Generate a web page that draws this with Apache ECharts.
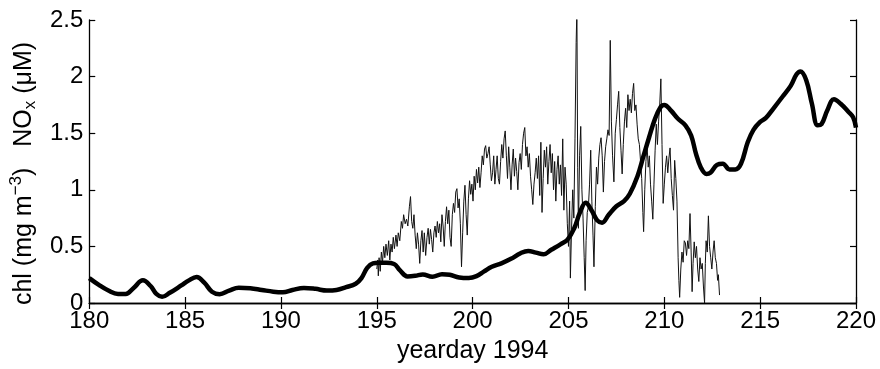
<!DOCTYPE html>
<html>
<head>
<meta charset="utf-8">
<script src="https://cdn.jsdelivr.net/npm/echarts@6/dist/echarts.min.js"></script>
<style>
  html, body { margin: 0; padding: 0; background: #fff; }
  #chart { width: 880px; height: 369px; }
</style>
</head>
<body>
<div id="chart"></div>
<script>
// chl (thick smooth line), [yearday, mg m-3]
const chlData = [
  [180.0, 0.22], [180.5, 0.16], [181.0, 0.11], [181.5, 0.08], [181.9, 0.08],
  [182.3, 0.13], [182.8, 0.20], [183.2, 0.15], [183.5, 0.08], [183.8, 0.055],
  [184.2, 0.09], [184.8, 0.155], [185.2, 0.20], [185.6, 0.23], [186.0, 0.18],
  [186.4, 0.10], [186.8, 0.078], [187.3, 0.11], [187.8, 0.135], [188.4, 0.13],
  [189.0, 0.115], [189.6, 0.10], [190.1, 0.095], [190.6, 0.115], [191.2, 0.133],
  [191.8, 0.125], [192.4, 0.11], [192.9, 0.115], [193.4, 0.14], [193.9, 0.17],
  [194.2, 0.22], [194.5, 0.31], [194.8, 0.35], [195.1, 0.355], [195.5, 0.355],
  [195.9, 0.345], [196.2, 0.29], [196.6, 0.235], [197.0, 0.24], [197.4, 0.252],
  [197.9, 0.232], [198.4, 0.255], [198.8, 0.25], [199.3, 0.225], [199.8, 0.22],
  [200.2, 0.237], [200.6, 0.28], [201.0, 0.32], [201.5, 0.35], [202.0, 0.39],
  [202.5, 0.44], [202.9, 0.46], [203.3, 0.445], [203.7, 0.43], [204.1, 0.47],
  [204.6, 0.52], [204.95, 0.56], [205.3, 0.66], [205.6, 0.80], [205.9, 0.885],
  [206.2, 0.82], [206.5, 0.73], [206.75, 0.71], [207.1, 0.78], [207.5, 0.855],
  [207.9, 0.90], [208.2, 0.965], [208.6, 1.12], [208.9, 1.29], [209.2, 1.46],
  [209.5, 1.62], [209.8, 1.73], [210.0, 1.75], [210.35, 1.70], [210.7, 1.63],
  [211.1, 1.57], [211.4, 1.48], [211.65, 1.32], [211.9, 1.20], [212.2, 1.14],
  [212.4, 1.15], [212.75, 1.22], [213.05, 1.23], [213.4, 1.18], [213.7, 1.18],
  [214.0, 1.23], [214.35, 1.42], [214.65, 1.53], [215.0, 1.60], [215.3, 1.635],
  [215.7, 1.72], [216.2, 1.83], [216.6, 1.92], [216.9, 2.02], [217.1, 2.045],
  [217.4, 1.97], [217.7, 1.76], [218.0, 1.57], [218.2, 1.58], [218.5, 1.70],
  [218.85, 1.80], [219.2, 1.76], [219.6, 1.69], [219.85, 1.64], [220.0, 1.55]
];

// NOx (thin noisy line), [yearday, uM]
const noxData = [
  [195.00, 0.30], [195.05, 0.38], [195.08, 0.24], [195.12, 0.40], [195.18, 0.28],
  [195.24, 0.45], [195.30, 0.36], [195.36, 0.50], [195.42, 0.40], [195.48, 0.52],
  [195.55, 0.42], [195.62, 0.55], [195.68, 0.38], [195.74, 0.52], [195.80, 0.45],
  [195.86, 0.58], [195.92, 0.48], [196.00, 0.60], [196.06, 0.50], [196.12, 0.62],
  [196.20, 0.55], [196.28, 0.72], [196.34, 0.66], [196.40, 0.78], [196.48, 0.70],
  [196.55, 0.74], [196.62, 0.68], [196.70, 0.85], [196.76, 0.94], [196.82, 0.72],
  [196.88, 0.66], [196.94, 0.78], [197.00, 0.60], [197.06, 0.48], [197.12, 0.62],
  [197.18, 0.52], [197.24, 0.35], [197.30, 0.55], [197.36, 0.64], [197.42, 0.45],
  [197.48, 0.62], [197.55, 0.42], [197.62, 0.58], [197.68, 0.66], [197.74, 0.52],
  [197.80, 0.65], [197.86, 0.56], [197.92, 0.45], [197.98, 0.62], [198.04, 0.68],
  [198.10, 0.58], [198.16, 0.72], [198.22, 0.62], [198.28, 0.70], [198.34, 0.54],
  [198.40, 0.78], [198.46, 0.68], [198.52, 0.50], [198.58, 0.72], [198.64, 0.85],
  [198.70, 0.70], [198.76, 0.82], [198.82, 0.58], [198.88, 0.50], [198.94, 0.78],
  [199.00, 0.88], [199.06, 0.80], [199.12, 0.98], [199.18, 1.01], [199.24, 0.84],
  [199.30, 0.92], [199.36, 0.70], [199.42, 0.32], [199.48, 0.62], [199.54, 0.90],
  [199.60, 1.04], [199.66, 0.78], [199.72, 0.60], [199.78, 0.92], [199.84, 1.08],
  [199.90, 0.96], [199.96, 1.05], [200.02, 0.90], [200.08, 1.12], [200.14, 1.00],
  [200.20, 1.18], [200.26, 1.06], [200.32, 1.20], [200.38, 1.02], [200.44, 1.15],
  [200.50, 1.30], [200.56, 1.22], [200.62, 1.36], [200.68, 1.39], [200.74, 1.28],
  [200.80, 1.32], [200.86, 1.38], [200.92, 1.22], [200.98, 1.08], [201.04, 1.15],
  [201.10, 1.30], [201.16, 1.05], [201.22, 1.18], [201.28, 1.30], [201.34, 1.10],
  [201.40, 1.05], [201.46, 1.25], [201.52, 1.40], [201.58, 1.28], [201.64, 1.45],
  [201.70, 1.52], [201.76, 1.30], [201.82, 1.10], [201.88, 1.38], [201.94, 1.20],
  [202.00, 1.00], [202.06, 1.22], [202.12, 1.36], [202.18, 1.12], [202.24, 1.28],
  [202.30, 1.16], [202.36, 1.00], [202.42, 1.24], [202.48, 1.32], [202.54, 1.18],
  [202.60, 1.40], [202.66, 1.50], [202.72, 1.55], [202.78, 1.30], [202.84, 1.38],
  [202.90, 1.20], [202.96, 1.32], [203.02, 1.12], [203.08, 1.00], [203.14, 0.87],
  [203.20, 1.05], [203.26, 1.15], [203.32, 1.28], [203.38, 1.10], [203.44, 1.30],
  [203.50, 0.95], [203.56, 1.42], [203.62, 0.80], [203.68, 1.10], [203.74, 1.35],
  [203.80, 1.20], [203.86, 1.38], [203.92, 1.05], [203.98, 1.25], [204.04, 1.40],
  [204.10, 1.15], [204.16, 1.32], [204.22, 1.00], [204.28, 1.25], [204.34, 0.90],
  [204.40, 1.18], [204.46, 1.30], [204.52, 1.05], [204.58, 1.22], [204.64, 0.95],
  [204.70, 1.45], [204.76, 0.82], [204.82, 1.20], [204.88, 1.05], [204.94, 0.70],
  [205.00, 0.50], [205.06, 0.90], [205.10, 0.22], [205.16, 0.65], [205.22, 1.00],
  [205.28, 0.75], [205.34, 1.45], [205.40, 2.30], [205.44, 2.60], [205.48, 1.20],
  [205.52, 0.66], [205.58, 1.30], [205.64, 1.56], [205.70, 1.00], [205.76, 0.75],
  [205.82, 0.40], [205.87, 0.11], [205.92, 0.55], [205.98, 0.80], [206.04, 0.85],
  [206.10, 1.05], [206.16, 1.35], [206.22, 0.90], [206.28, 0.60], [206.33, 0.32],
  [206.40, 0.85], [206.46, 1.20], [206.52, 1.05], [206.58, 1.28], [206.64, 1.40],
  [206.70, 1.46], [206.76, 1.30], [206.82, 0.98], [206.88, 1.25], [206.94, 1.38],
  [207.00, 1.45], [207.06, 1.53], [207.12, 1.48], [207.18, 2.32], [207.24, 1.60],
  [207.30, 1.30], [207.37, 1.07], [207.44, 1.50], [207.50, 1.62], [207.56, 1.75],
  [207.62, 1.87], [207.68, 1.55], [207.74, 1.35], [207.80, 1.14], [207.86, 1.40],
  [207.92, 1.60], [207.98, 1.72], [208.04, 1.55], [208.10, 1.84], [208.16, 1.70],
  [208.22, 1.80], [208.28, 1.68], [208.34, 1.85], [208.40, 1.94], [208.46, 1.70],
  [208.52, 1.75], [208.58, 1.58], [208.64, 1.45], [208.70, 1.40], [208.76, 1.25],
  [208.82, 1.10], [208.88, 0.80], [208.92, 0.63], [208.98, 1.00], [209.04, 1.25],
  [209.10, 1.39], [209.16, 1.20], [209.22, 1.30], [209.28, 1.05], [209.34, 0.90],
  [209.40, 0.74], [209.46, 1.05], [209.52, 1.35], [209.58, 1.58], [209.64, 1.40],
  [209.70, 1.60], [209.76, 1.75], [209.82, 1.98], [209.88, 1.40], [209.94, 0.88],
  [210.00, 1.05], [210.06, 1.20], [210.12, 1.30], [210.18, 1.15], [210.24, 1.28],
  [210.30, 1.37], [210.36, 1.10], [210.42, 0.95], [210.48, 0.82], [210.54, 1.26],
  [210.60, 1.10], [210.66, 0.90], [210.72, 0.40], [210.76, 0.20], [210.80, 0.05],
  [210.86, 0.30], [210.92, 0.45], [210.98, 0.36], [211.04, 0.55], [211.10, 0.53],
  [211.16, 0.42], [211.22, 0.55], [211.28, 0.48], [211.34, 0.79], [211.40, 0.45],
  [211.45, 0.10], [211.50, 0.35], [211.56, 0.54], [211.62, 0.40], [211.68, 0.50],
  [211.74, 0.30], [211.80, 0.19], [211.86, 0.40], [211.92, 0.30], [211.98, 0.35],
  [212.04, 0.15], [212.10, 0.00], [212.14, 0.35], [212.18, 0.55], [212.24, 0.45],
  [212.30, 0.77], [212.36, 0.50], [212.42, 0.40], [212.48, 0.30], [212.54, 0.45],
  [212.60, 0.55], [212.66, 0.40], [212.72, 0.35], [212.78, 0.20], [212.82, 0.25],
  [212.88, 0.07]
];

const xRange = [180, 220];
const yRange = [0, 2.5];

const font = 'Liberation Sans, Arial, Helvetica, sans-serif';
const frame = { show: true, lineStyle: { color: '#000', width: 1.3 } };
const tickIn = { show: true, inside: true, length: 6, lineStyle: { color: '#000', width: 1.2 } };

const chart = echarts.init(document.getElementById('chart'), null, { renderer: 'canvas' });
chart.setOption({
  backgroundColor: '#fff',
  animation: false,
  grid: { left: 89, right: 24, top: 20, bottom: 61 },
  xAxis: [
    {
      type: 'value', min: xRange[0], max: xRange[1], interval: 5,
      axisLine: frame, axisTick: tickIn, splitLine: { show: false },
      axisLabel: { color: '#000', fontSize: 24, fontFamily: font, margin: 6 },
      name: 'yearday 1994', nameLocation: 'middle', nameGap: 36,
      nameTextStyle: { color: '#000', fontSize: 25, fontFamily: font }
    },
    {
      type: 'value', position: 'top', min: xRange[0], max: xRange[1], interval: 5,
      axisLine: frame, axisTick: tickIn, axisLabel: { show: false }, splitLine: { show: false }
    }
  ],
  yAxis: [
    {
      type: 'value', min: yRange[0], max: yRange[1], interval: 0.5,
      axisLine: frame, axisTick: tickIn, splitLine: { show: false },
      axisLabel: { color: '#000', fontSize: 24, fontFamily: font, margin: 6 },
      name: '{a|chl (mg m}{sup|−3}{a|)   NO}{sub|x}{a| (μM)}',
      nameLocation: 'middle', nameRotate: 90, nameGap: 38,
      nameTextStyle: {
        color: '#000', fontSize: 25, fontFamily: font, padding: [0, 24, 0, 0],
        rich: {
          a: { fontSize: 25, fontFamily: font, color: '#000' },
          sup: { fontSize: 17, fontFamily: font, color: '#000', padding: [0, 0, 16, 0] },
          sub: { fontSize: 17, fontFamily: font, color: '#000', padding: [12, 0, 0, 0] }
        }
      }
    },
    {
      type: 'value', position: 'right', min: yRange[0], max: yRange[1], interval: 0.5,
      axisLine: frame, axisTick: tickIn, axisLabel: { show: false }, splitLine: { show: false }
    }
  ],
  series: [
    {
      name: 'NOx', type: 'line', data: noxData, showSymbol: false, clip: true,
      lineStyle: { color: '#111', width: 1 }, z: 2
    },
    {
      name: 'chl', type: 'line', data: chlData, showSymbol: false, smooth: 0.4, clip: true,
      lineStyle: { color: '#000', width: 4.5 }, z: 3
    }
  ]
});
</script>
</body>
</html>
